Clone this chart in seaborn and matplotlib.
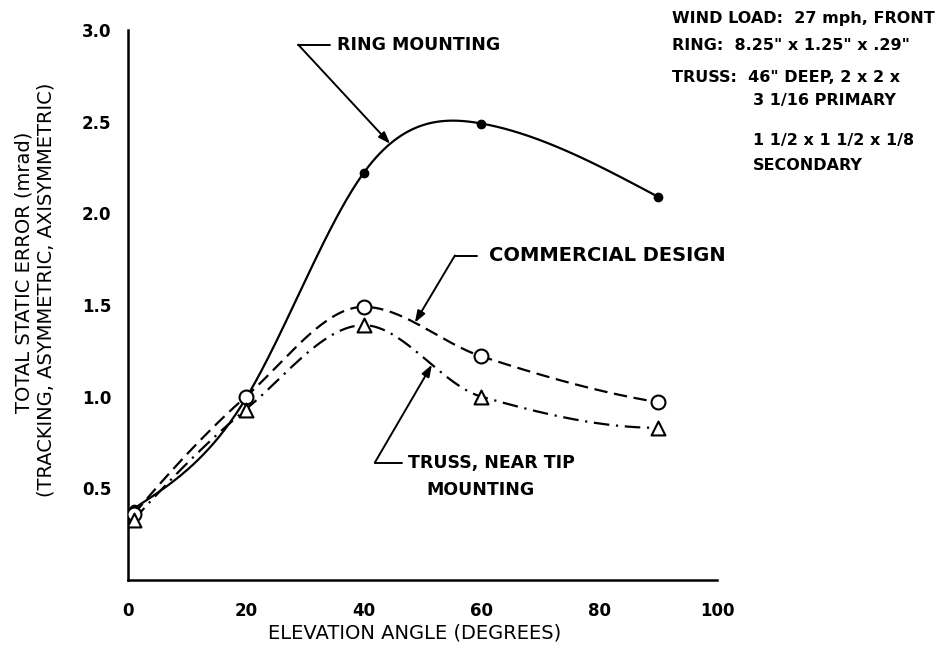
import numpy as np
import pandas as pd
import matplotlib
matplotlib.use("Agg")
import matplotlib.pyplot as plt
import seaborn as sns

# ---- data ----
elevation = [1, 20, 40, 60, 90]
ring_mounting = [0.39, 0.99, 2.22, 2.49, 2.09]
commercial_design = [0.36, 1.00, 1.49, 1.22, 0.97]
truss_near_tip = [0.33, 0.93, 1.39, 1.00, 0.83]
x_ticks = [0, 20, 40, 60, 80, 100]
y_ticks = [0.5, 1.0, 1.5, 2.0, 2.5, 3.0]
y_tick_labels = ["0.5", "1.0", "1.5", "2.0", "2.5", "3.0"]
notes = ["WIND LOAD:  27 mph, FRONT",
         "RING:  8.25\" x 1.25\" x .29\"",
         "TRUSS:  46\" DEEP, 2 x 2 x",
         "3 1/16 PRIMARY",
         "1 1/2 x 1 1/2 x 1/8",
         "SECONDARY"]


def natural_spline(x, y, xs):
    x = np.asarray(x, float); y = np.asarray(y, float)
    n = len(x); h = np.diff(x)
    A = np.zeros((n, n)); r = np.zeros(n)
    A[0, 0] = 1; A[-1, -1] = 1
    for i in range(1, n - 1):
        A[i, i - 1] = h[i - 1]; A[i, i] = 2 * (h[i - 1] + h[i]); A[i, i + 1] = h[i]
        r[i] = 3 * ((y[i + 1] - y[i]) / h[i] - (y[i] - y[i - 1]) / h[i - 1])
    c = np.linalg.solve(A, r)
    b = (y[1:] - y[:-1]) / h - h * (2 * c[:-1] + c[1:]) / 3
    d = (c[1:] - c[:-1]) / (3 * h)
    idx = np.clip(np.searchsorted(x, xs) - 1, 0, n - 2)
    t = xs - x[idx]
    return y[idx] + b[idx] * t + c[idx] * t ** 2 + d[idx] * t ** 3


def pchip(x, y, xs):
    x = np.asarray(x, float); y = np.asarray(y, float)
    n = len(x); h = np.diff(x); delta = np.diff(y) / h
    d = np.zeros(n)
    for k in range(1, n - 1):
        if delta[k - 1] * delta[k] > 0:
            w1 = 2 * h[k] + h[k - 1]; w2 = h[k] + 2 * h[k - 1]
            d[k] = (w1 + w2) / (w1 / delta[k - 1] + w2 / delta[k])

    def end(h0, h1, d0, d1):
        v = ((2 * h0 + h1) * d0 - h0 * d1) / (h0 + h1)
        if np.sign(v) != np.sign(d0):
            v = 0.0
        elif np.sign(d0) != np.sign(d1) and abs(v) > abs(3 * d0):
            v = 3 * d0
        return v
    d[0] = end(h[0], h[1], delta[0], delta[1])
    d[-1] = end(h[-1], h[-2], delta[-1], delta[-2])
    idx = np.clip(np.searchsorted(x, xs) - 1, 0, n - 2)
    t = (xs - x[idx]) / h[idx]
    h00 = 2 * t ** 3 - 3 * t ** 2 + 1; h10 = t ** 3 - 2 * t ** 2 + t
    h01 = -2 * t ** 3 + 3 * t ** 2; h11 = t ** 3 - t ** 2
    return (h00 * y[idx] + h10 * h[idx] * d[idx] + h01 * y[idx + 1]
            + h11 * h[idx] * d[idx + 1])


sns.set_style("white")
plt.rcParams['font.family'] = ['DejaVu Sans']
plt.rcParams['text.color'] = 'black'
plt.rcParams['axes.labelcolor'] = 'black'
plt.rcParams['xtick.color'] = 'black'
plt.rcParams['ytick.color'] = 'black'

fig = plt.figure(figsize=(9.51, 6.49), dpi=100)
ax = fig.add_axes([128 / 951, 1 - 580 / 649, 589 / 951, 550 / 649])

xs = np.linspace(elevation[0], elevation[-1], 400)
series = [
    ("ring", ring_mounting, natural_spline, (0, ()), "o", "black", 5.5),
    ("commercial", commercial_design, pchip, (0, (6, 3)), "o", "white", 10),
    ("truss", truss_near_tip, pchip, (0, (7, 3, 1, 3)), "^", "white", 10),
]
splines = {}
for name, vals, fn, ls, mk, fc, ms in series:
    ys = fn(elevation, vals, xs)
    splines[name] = ys
    df = pd.DataFrame({"x": xs, "y": ys})
    sns.lineplot(data=df, x="x", y="y", ax=ax, color="black", lw=1.6,
                 linestyle=ls, sort=False)
    pts = pd.DataFrame({"x": elevation, "y": vals})
    sns.scatterplot(data=pts, x="x", y="y", ax=ax, marker=mk, s=ms ** 2,
                    facecolor=fc, edgecolor="black", linewidth=1.5, zorder=5)

ax.set_xlim(0, 100)
ax.set_ylim(0, 3.0)
ax.set_xticks(x_ticks)
ax.set_xticklabels([str(v) for v in x_ticks], fontsize=12, fontweight="bold")
ax.set_yticks(y_ticks)
ax.set_yticklabels(y_tick_labels, fontsize=12, fontweight="bold")
ax.tick_params(axis="x", direction="out", length=9, width=1.5, color="black",
               labelcolor="black", pad=7)
ax.tick_params(axis="y", direction="out", length=8, width=1.5, color="black",
               labelcolor="black", pad=4)
ax.set_xlabel("")
ax.set_ylabel("")
for s in ["top", "right"]:
    ax.spines[s].set_visible(False)
for s in ["left", "bottom"]:
    ax.spines[s].set_linewidth(1.8)
    ax.spines[s].set_color("black")

fig.text(415 / 951, 1 - 633 / 649, "ELEVATION ANGLE (DEGREES)", ha="center",
         va="center", fontsize=14, color="black")
fig.text(24 / 951, 1 - 272 / 649, "TOTAL STATIC ERROR (mrad)", rotation=90,
         ha="center", va="center", fontsize=14, color="black")
fig.text(46 / 951, 1 - 290 / 649, "(TRACKING, ASYMMETRIC, AXISYMMETRIC)",
         rotation=90, ha="center", va="center", fontsize=14, color="black")


def curve_at(name, xv):
    return float(np.interp(xv, xs, splines[name]))


arrow = dict(arrowstyle="-|>,head_length=0.7,head_width=0.25", color="black",
             lw=1.4, shrinkA=0, shrinkB=0)
ann_font = dict(fontsize=12.5, fontweight="bold", va="center", color="black")

# Ring mounting
ax.plot([28.9, 34.3], [2.92, 2.92], color="black", lw=1.4)
ax.annotate("", xy=(44.5, curve_at("ring", 44.5)), xytext=(28.9, 2.92),
            arrowprops=arrow)
ax.text(35.5, 2.92, "RING MOUNTING", **ann_font)

# Commercial design
ax.plot([55.5, 59.3], [1.77, 1.77], color="black", lw=1.4)
ax.annotate("", xy=(48.7, curve_at("commercial", 48.7)), xytext=(55.5, 1.77),
            arrowprops=arrow)
ax.text(61.3, 1.77, "COMMERCIAL DESIGN", fontsize=14, fontweight="bold",
        va="center", color="black", clip_on=False)

# Truss
ax.plot([41.9, 46.5], [0.64, 0.64], color="black", lw=1.4)
ax.annotate("", xy=(51.6, curve_at("truss", 51.6)), xytext=(41.9, 0.64),
            arrowprops=arrow)
ax.text(47.5, 0.64, "TRUSS, NEAR TIP", **ann_font)
ax.text(59.8, 0.49, "MOUNTING", ha="center", fontsize=12.5,
        fontweight="bold", va="center", color="black")

# Top-right notes
note_font = dict(fontsize=11.5, fontweight="bold", va="center", color="black")
note_x = [672, 672, 672, 753, 753, 753]
note_y = [18, 45, 77, 100, 141, 165]
for txt, nx, ny in zip(notes, note_x, note_y):
    fig.text(nx / 951, 1 - ny / 649, txt, **note_font)

fig.savefig("out.png", dpi=100)
